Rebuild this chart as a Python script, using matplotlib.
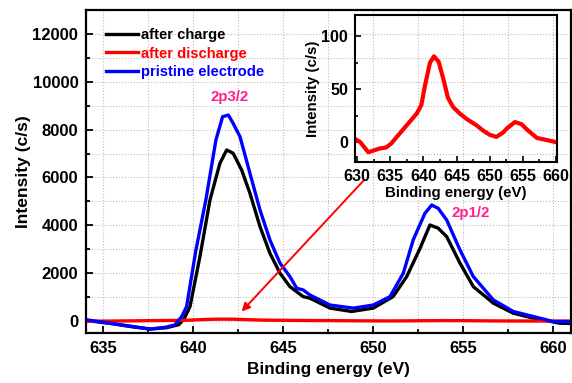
import matplotlib
matplotlib.use("Agg")
import matplotlib.pyplot as plt
from matplotlib.ticker import MultipleLocator

plt.rcParams['font.family'] = ['Liberation Sans', 'DejaVu Sans']
plt.rcParams['font.weight'] = 'bold'

# ---- data ----
charge_x = [634.0, 635.4, 636.7, 637.6, 638.5, 639.2, 639.5, 639.82, 640.37, 640.93, 641.48,
            641.86, 642.22, 642.69, 643.15, 643.71, 644.26, 644.82, 645.37, 646.11, 646.48,
            647.6, 648.8, 650.0, 651.1, 651.86, 652.6, 653.15, 653.61, 654.08, 654.82,
            655.56, 656.67, 657.78, 658.89, 660.37, 661.0]
charge_y = [30, -100, -250, -330, -280, -150, 100, 605, 2690, 5060, 6590,
            7150, 7010, 6310, 5340, 3945, 2835, 2000, 1440, 1020, 956,
            540, 400, 540, 1020, 1860, 3040, 4015, 3880, 3530, 2420,
            1440, 750, 330, 120, -90, -100]

pristine_x = [634.0, 635.37, 636.67, 637.6, 638.5, 638.98, 639.36, 639.63, 640.15, 640.7,
              641.26, 641.63, 641.95, 642.22, 642.6, 643.15, 643.71, 644.26,
              644.82, 645.37, 645.75, 646.11, 646.48, 647.6, 648.89, 650.0, 650.93, 651.67,
              652.22, 652.87, 653.25, 653.61, 654.08, 654.82, 655.56, 656.67, 657.78,
              658.89, 660.0, 661.0]
pristine_y = [60, -90, -230, -340, -255, -160, 190, 605, 2970, 5060,
              7565, 8540, 8610, 8260, 7700, 6175, 4640, 3390,
              2420, 1860, 1370, 1300, 1090, 670, 540, 670, 1020, 2000,
              3390, 4500, 4850, 4710, 4225, 2970, 1860, 885, 400,
              190, -20, -20]

discharge_x = [630.0, 630.5, 631.7, 633.4, 634.4, 635.2, 636.0, 637.5, 639.0, 639.7, 640.2,
               641.0, 641.6, 642.3, 643.0, 643.7, 644.5, 645.5, 646.5, 648.0, 649.0, 650.0,
               651.0, 652.0, 652.6, 653.8, 654.8, 655.6, 657.1, 658.6, 660.0, 661.0]
discharge_y = [2, 0, -9.5, -6, -5, -1, 5, 16, 27, 35, 52,
               75, 81, 76, 60, 42, 33, 27, 22, 16, 11, 7,
               5, 9, 13, 19, 17, 12, 4, 2, 0, 0]

labels = ["after charge", "after discharge", "pristine electrode"]
colors = ["black", "red", "blue"]
peak_labels = ["2p3/2", "2p1/2"]
peak_pos = [(642.0, 9360), (655.4, 4530)]

fig = plt.figure(figsize=(5.72, 3.83), dpi=100)
ax = fig.add_axes([0.1503, 0.1305, 0.8474, 0.8434])

ax.plot(charge_x, charge_y, color=colors[0], lw=2.4, label=labels[0])
ax.plot(discharge_x, discharge_y, color=colors[1], lw=2.4, label=labels[1])
ax.plot(pristine_x, pristine_y, color=colors[2], lw=2.4, label=labels[2])

ax.set_xlim(634.04, 660.97)
ax.set_ylim(-500, 13000)
ax.xaxis.set_major_locator(MultipleLocator(5))
ax.xaxis.set_minor_locator(MultipleLocator(2.5))
ax.yaxis.set_major_locator(MultipleLocator(2000))
ax.yaxis.set_minor_locator(MultipleLocator(1000))
ax.grid(True, which='both', color='#bbbbbb', linestyle=':', linewidth=0.8)
ax.set_axisbelow(True)
ax.tick_params(which='both', direction='in', width=1.3, labelsize=12)
ax.tick_params(axis='x', which='both', pad=6)
ax.tick_params(axis='y', which='both', pad=5.5)
ax.tick_params(which='major', length=5)
ax.tick_params(which='minor', length=3)
for s in ax.spines.values():
    s.set_linewidth(1.6)
for t in ax.get_xticklabels() + ax.get_yticklabels():
    t.set_fontweight('bold')
ax.set_xlabel("Binding energy (eV)", fontsize=12.4, fontweight='bold', labelpad=4)
ax.set_ylabel("Intensity (c/s)", fontsize=12.6, fontweight='bold', labelpad=1)

leg = ax.legend(loc='upper left', bbox_to_anchor=(0.013, 0.985), frameon=False,
                handlelength=2.2, handletextpad=0.2, labelspacing=0.3,
                prop={'weight': 'bold', 'size': 10.6}, labelcolor='linecolor')

for lab, (px, py) in zip(peak_labels, peak_pos):
    ax.text(px, py, lab, color='#ff1f8e', fontsize=10.8, fontweight='bold',
            ha='center', va='center')

ax.annotate("", xy=(642.69, 400), xytext=(649.5, 5900),
            arrowprops=dict(arrowstyle='-|>', color='red', lw=1.4,
                            mutation_scale=12, shrinkA=0, shrinkB=0))

# ---- inset ----
ins = fig.add_axes([0.6206, 0.5762, 0.3527, 0.3846])
ins.patch.set_alpha(0.0)
ins.plot(discharge_x, discharge_y, color='red', lw=3)
ins.set_xlim(629.7, 660.1)
ins.set_ylim(-19, 120)
ins.xaxis.set_major_locator(MultipleLocator(5))
ins.xaxis.set_minor_locator(MultipleLocator(2.5))
ins.yaxis.set_major_locator(MultipleLocator(50))
ins.yaxis.set_minor_locator(MultipleLocator(25))
ins.tick_params(which='both', direction='in', width=1.2, labelsize=11.5)
ins.tick_params(axis='x', which='both', pad=4.5)
ins.tick_params(axis='y', which='both', pad=5)
ins.tick_params(which='major', length=4)
ins.tick_params(which='minor', length=2.5)
for s in ins.spines.values():
    s.set_linewidth(1.5)
for t in ins.get_xticklabels() + ins.get_yticklabels():
    t.set_fontweight('bold')
ins.set_xlabel("Binding energy (eV)", fontsize=10.8, fontweight='bold', labelpad=1.5)
ins.set_ylabel("Intensity (c/s)", fontsize=10.8, fontweight='bold', labelpad=1)

fig.savefig("out.png", dpi=100)
